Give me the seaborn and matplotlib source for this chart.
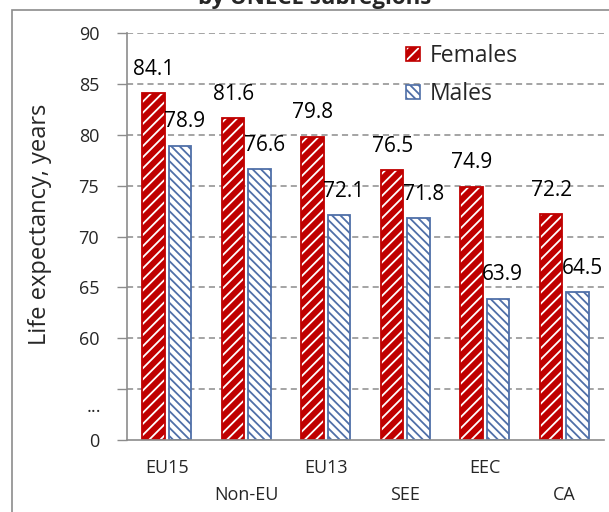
import numpy as np
import pandas as pd
import matplotlib
matplotlib.use("Agg")
import matplotlib.pyplot as plt
import matplotlib.patches as mpatches
import seaborn as sns

# Data
regions = ["EU15", "Non-EU", "EU13", "SEE", "EEC", "CA"]
females = [84.1, 81.6, 79.8, 76.5, 74.9, 72.2]
males = [78.9, 76.6, 72.1, 71.8, 63.9, 64.5]
sexes = ["Females", "Males"]
ytick_labels = ["0", "", "60", "65", "70", "75", "80", "85", "90"]

# broken axis: everything below 60 is squeezed, so 60 sits at 10 on the drawn scale
AXIS_BREAK = 50

RED = "#C00000"
BLUE = "#4F6FA8"
GRAY = "#8C8C8C"
F_HATCH = "///"
M_HATCH = "\\\\\\\\"

sns.set_style("white")
plt.rcParams["font.family"] = ["Open Sans", "DejaVu Sans"]
plt.rcParams["hatch.linewidth"] = 1.3

df = pd.DataFrame({
    "region": regions * 2,
    "sex": [sexes[0]] * len(regions) + [sexes[1]] * len(regions),
    "value": females + males,
})
df["shown"] = df["value"] - AXIS_BREAK

fig = plt.figure(figsize=(6.09, 5.12), dpi=100)
ax = fig.add_axes([127 / 609, 72 / 512, 477 / 609, 407 / 512])

sns.barplot(data=df, x="region", y="shown", hue="sex", order=regions, hue_order=sexes,
            palette=[RED, BLUE], width=0.66, gap=0.15, saturation=1, legend=False, ax=ax)

# females: red fill with white stripes; males: white fill with thin blue stripes
styles = {
    0: dict(face=RED, hcol="white", edge=RED, hatch=F_HATCH, dx=0),
    1: dict(face="white", hcol=BLUE, edge=BLUE, hatch=M_HATCH, dx=5),
}
for i, cont in enumerate(ax.containers):
    st = styles[i]
    vals = females if i == 0 else males
    for bar, v in zip(cont, vals):
        bar.set_facecolor(st["face"])
        bar.set_edgecolor(st["hcol"])
        bar.set_hatch(st["hatch"])
        bar.set_linewidth(0)
        ax.add_patch(mpatches.Rectangle(bar.get_xy(), bar.get_width(), bar.get_height(),
                                        fill=False, edgecolor=st["edge"], lw=1.3))
        ax.annotate(f"{v:.1f}", xy=(bar.get_x() + bar.get_width() / 2, bar.get_height()),
                    xytext=(st["dx"], 24), textcoords="offset pixels",
                    ha="center", va="center", fontsize=15, color="black")

ax.set_ylim(0, 40)
ax.set_xlim(-0.5, len(regions) - 0.5)
ax.set_yticks(np.arange(0, 41, 5))
ax.set_yticklabels(ytick_labels, fontsize=13)
ax.text(-0.055, 3.2, "...", transform=ax.get_yaxis_transform(), ha="right", va="center",
        fontsize=13)

for y in np.arange(5, 41, 5):
    ax.axhline(y, color=GRAY, lw=1.1, dashes=(4, 2.7), zorder=0)

# category labels on minor ticks, boundaries as major ticks
ax.set_xticks(np.arange(-0.5, len(regions), 1))
ax.set_xticklabels([])
ax.set_xticks(np.arange(len(regions)), minor=True)
ax.set_xticklabels(regions, minor=True, fontsize=13)
ax.tick_params(axis="x", which="minor", length=0)
for k, t in enumerate(ax.xaxis.get_minor_ticks()):
    t.set_pad(14 if k % 2 == 0 else 33)
ax.tick_params(axis="x", which="major", length=6, width=1, color=GRAY, direction="out")
ax.tick_params(axis="y", length=7, width=1, color=GRAY, direction="out", pad=13, left=True)

ax.set_xlabel("")
ax.set_ylabel("Life expectancy, years", fontsize=17)
ax.yaxis.set_label_coords(-0.158, 0.53)

for side in ["top", "right"]:
    ax.spines[side].set_visible(False)
for side in ["left", "bottom"]:
    ax.spines[side].set_color(GRAY)
    ax.spines[side].set_linewidth(1.2)

handles = []
for i in range(2):
    st = styles[i]
    fill = mpatches.Patch(facecolor=st["face"], edgecolor=st["hcol"], hatch=st["hatch"], lw=0)
    outline = mpatches.Patch(fill=False, edgecolor=st["edge"], lw=1.2)
    handles.append((fill, outline))
leg = ax.legend(handles=handles, labels=sexes, loc="upper left",
                bbox_to_anchor=(406 / 609, 1 - 44 / 512),
                bbox_transform=fig.transFigure, frameon=False, fontsize=16.5,
                handlelength=0.6, handleheight=0.6, handletextpad=0.45,
                labelspacing=0.62, borderpad=0, borderaxespad=0)

# outer chart frame and clipped title
fig.patches.append(mpatches.Rectangle((12 / 609, -0.2), 1.2, 1.2 - 10 / 512,
                                      transform=fig.transFigure, fill=False,
                                      edgecolor=GRAY, lw=1.2))
fig.text(315 / 609, 1 - 4 / 512, "by UNECE subregions", ha="center", va="baseline",
         fontsize=16, fontweight="bold")

fig.savefig("out.png", dpi=100)
